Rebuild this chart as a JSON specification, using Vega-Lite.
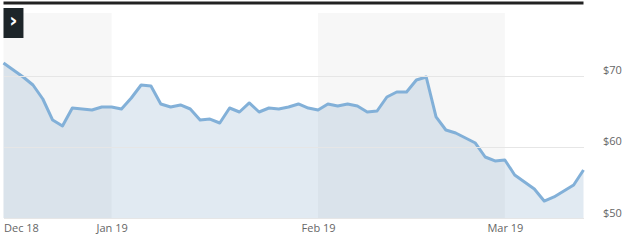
{
  "$schema": "https://vega.github.io/schema/vega-lite/v6.json",
  "width": 580,
  "height": 215,
  "padding": {"left": 1.5, "top": 1, "right": 5, "bottom": 5},
  "background": "white",
  "config": {
    "view": {"stroke": null},
    "axis": {"labelFont": "Open Sans", "labelFontSize": 11, "labelColor": "#666666"}
  },
  "datasets": {
    "prices": [
      {"i": 0, "date": "2018-12-14", "price": 71.83},
      {"i": 1, "date": "2018-12-17", "price": 70.85},
      {"i": 2, "date": "2018-12-18", "price": 69.86},
      {"i": 3, "date": "2018-12-19", "price": 68.73},
      {"i": 4, "date": "2018-12-20", "price": 66.76},
      {"i": 5, "date": "2018-12-21", "price": 63.80},
      {"i": 6, "date": "2018-12-24", "price": 62.96},
      {"i": 7, "date": "2018-12-26", "price": 65.49},
      {"i": 8, "date": "2018-12-27", "price": 65.35},
      {"i": 9, "date": "2018-12-28", "price": 65.21},
      {"i": 10, "date": "2018-12-31", "price": 65.63},
      {"i": 11, "date": "2019-01-02", "price": 65.63},
      {"i": 12, "date": "2019-01-03", "price": 65.35},
      {"i": 13, "date": "2019-01-04", "price": 66.90},
      {"i": 14, "date": "2019-01-07", "price": 68.73},
      {"i": 15, "date": "2019-01-08", "price": 68.59},
      {"i": 16, "date": "2019-01-09", "price": 66.06},
      {"i": 17, "date": "2019-01-10", "price": 65.63},
      {"i": 18, "date": "2019-01-11", "price": 65.92},
      {"i": 19, "date": "2019-01-14", "price": 65.35},
      {"i": 20, "date": "2019-01-15", "price": 63.80},
      {"i": 21, "date": "2019-01-16", "price": 63.94},
      {"i": 22, "date": "2019-01-17", "price": 63.38},
      {"i": 23, "date": "2019-01-18", "price": 65.49},
      {"i": 24, "date": "2019-01-22", "price": 64.93},
      {"i": 25, "date": "2019-01-23", "price": 66.20},
      {"i": 26, "date": "2019-01-24", "price": 64.93},
      {"i": 27, "date": "2019-01-25", "price": 65.49},
      {"i": 28, "date": "2019-01-28", "price": 65.35},
      {"i": 29, "date": "2019-01-29", "price": 65.63},
      {"i": 30, "date": "2019-01-30", "price": 66.06},
      {"i": 31, "date": "2019-01-31", "price": 65.49},
      {"i": 32, "date": "2019-02-01", "price": 65.21},
      {"i": 33, "date": "2019-02-04", "price": 66.06},
      {"i": 34, "date": "2019-02-05", "price": 65.77},
      {"i": 35, "date": "2019-02-06", "price": 66.06},
      {"i": 36, "date": "2019-02-07", "price": 65.77},
      {"i": 37, "date": "2019-02-08", "price": 64.93},
      {"i": 38, "date": "2019-02-11", "price": 65.07},
      {"i": 39, "date": "2019-02-12", "price": 67.04},
      {"i": 40, "date": "2019-02-13", "price": 67.75},
      {"i": 41, "date": "2019-02-14", "price": 67.75},
      {"i": 42, "date": "2019-02-15", "price": 69.44},
      {"i": 43, "date": "2019-02-19", "price": 69.86},
      {"i": 44, "date": "2019-02-20", "price": 64.23},
      {"i": 45, "date": "2019-02-21", "price": 62.39},
      {"i": 46, "date": "2019-02-22", "price": 61.97},
      {"i": 47, "date": "2019-02-25", "price": 61.27},
      {"i": 48, "date": "2019-02-26", "price": 60.56},
      {"i": 49, "date": "2019-02-27", "price": 58.59},
      {"i": 50, "date": "2019-02-28", "price": 58.03},
      {"i": 51, "date": "2019-03-01", "price": 58.17},
      {"i": 52, "date": "2019-03-04", "price": 56.06},
      {"i": 53, "date": "2019-03-05", "price": 55.07},
      {"i": 54, "date": "2019-03-06", "price": 54.08},
      {"i": 55, "date": "2019-03-07", "price": 52.39},
      {"i": 56, "date": "2019-03-08", "price": 52.96},
      {"i": 57, "date": "2019-03-11", "price": 53.80},
      {"i": 58, "date": "2019-03-12", "price": 54.65},
      {"i": 59, "date": "2019-03-13", "price": 56.76}
    ],
    "bands": [
      {"month": "Dec 18", "from": 0, "to": 11, "shade": "gray"},
      {"month": "Jan 19", "from": 11, "to": 32, "shade": "white"},
      {"month": "Feb 19", "from": 32, "to": 51, "shade": "gray"},
      {"month": "Mar 19", "from": 51, "to": 59, "shade": "white"}
    ]
  },
  "layer": [
    {
      "data": {"name": "bands"},
      "transform": [{"filter": "datum.shade === 'gray'"}],
      "mark": {"type": "rect", "color": "#f7f7f7"},
      "encoding": {
        "x": {
          "field": "from", "type": "quantitative", "title": null,
          "scale": {"domain": [0, 59], "nice": false, "zero": false},
          "axis": {
            "orient": "bottom", "domain": false, "ticks": false, "grid": false,
            "values": [0, 11, 32, 51], "labelPadding": 4, "labelFlush": true,
            "labelExpr": "['Dec 18','Jan 19','Feb 19','Mar 19'][indexof([0,11,32,51], datum.value)]"
          }
        },
        "x2": {"field": "to"},
        "y": {
          "datum": 50, "type": "quantitative", "title": null,
          "scale": {"domain": [50, 80.28], "nice": false, "zero": false},
          "axis": {
            "orient": "right", "domain": false, "ticks": false, "grid": true,
            "gridColor": "#e6e6e6", "gridWidth": 1, "values": [50, 60, 70],
            "format": "$.0f", "labelPadding": 19, "labelBaseline": "bottom",
            "labelAlign": "left", "zindex": 1
          }
        },
        "y2": {"datum": 78.87}
      }
    },
    {
      "data": {"name": "prices"},
      "mark": {"type": "area", "color": "#5b8db8", "opacity": 0.18},
      "encoding": {
        "x": {"field": "i", "type": "quantitative", "title": null},
        "y": {"field": "price", "type": "quantitative", "title": null},
        "y2": {"datum": 50}
      }
    },
    {
      "data": {"name": "prices"},
      "mark": {"type": "line", "color": "#82b0d8", "strokeWidth": 3, "strokeJoin": "round"},
      "encoding": {
        "x": {"field": "i", "type": "quantitative", "title": null},
        "y": {"field": "price", "type": "quantitative", "title": null}
      }
    },
    {
      "data": {"values": [{}]},
      "mark": {"type": "rule", "color": "#222222", "strokeWidth": 3},
      "encoding": {"y": {"datum": 80.28, "type": "quantitative", "title": null}}
    },
    {
      "data": {"values": [{}]},
      "mark": {"type": "rect", "color": "#1d2529"},
      "encoding": {
        "x": {"datum": 0, "type": "quantitative", "title": null},
        "x2": {"datum": 2.03},
        "y": {"datum": 79.58, "type": "quantitative", "title": null},
        "y2": {"datum": 75.35}
      }
    },
    {
      "data": {"values": [{}]},
      "mark": {"type": "text", "text": "›", "color": "white", "fontSize": 20, "fontWeight": "bold", "font": "DejaVu Sans", "baseline": "middle", "align": "center", "dy": -2},
      "encoding": {
        "x": {"datum": 1.015, "type": "quantitative", "title": null},
        "y": {"datum": 77.46, "type": "quantitative", "title": null}
      }
    }
  ]
}
